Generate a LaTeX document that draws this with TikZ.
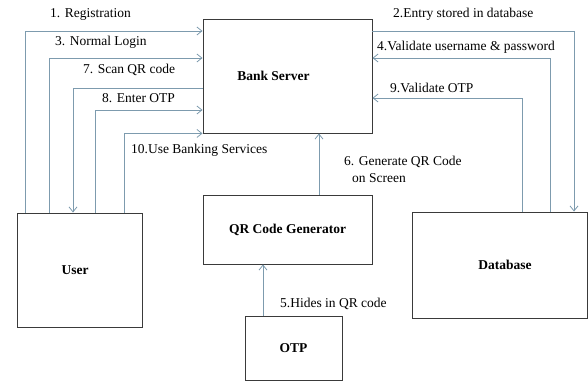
\documentclass[tikz,border=0pt]{standalone}
\usepackage{fontspec}
\setmainfont{Liberation Serif}
\usetikzlibrary{arrows.meta}
\definecolor{linkc}{HTML}{7D9BAE}
\definecolor{boxc}{HTML}{3A3A3A}
\begin{document}
\begin{tikzpicture}[x=1pt,y=-1pt,
  block/.style={draw=boxc,line width=0.9pt,rectangle,inner sep=0pt,
    font=\fontsize{13.5}{15}\selectfont\bfseries},
  link/.style={draw=linkc,line width=0.8pt,-{Straight Barb[length=5pt,width=8pt]}},
  lbl/.style={anchor=west,inner sep=0pt,font=\fontsize{13.5}{15}\selectfont}]
\useasboundingbox (0,0) rectangle (588,383);

% boxes (titles nudged off-centre with \hspace*)
\node[block,minimum width=169pt,minimum height=114pt] (bank) at (287.5,76) {Bank Server\hspace*{28pt}};
\node[block,minimum width=169pt,minimum height=69pt] (qr) at (287.5,229.5) {QR Code Generator};
\node[block,minimum width=97pt,minimum height=64pt] (otp) at (293.5,348) {OTP};
\node[block,minimum width=125pt,minimum height=114pt] (user) at (79.5,270) {User\hspace*{9pt}};
\node[block,minimum width=175pt,minimum height=106pt] (db) at (499.5,265) {\hspace*{11pt}Database};

% user <-> bank server
\draw[link] (user.north -| 25,0) |- (bank.west |- 0,31);
\draw[link] (user.north -| 49,0) |- (bank.west |- 0,58);
\draw[link] (bank.west |- 0,88) -| (user.north -| 73,0);
\draw[link] (user.north -| 95,0) |- (bank.west |- 0,110);
\draw[link] (user.north -| 124,0) |- (bank.south west);

% bank server <-> database
\draw[link] (bank.east |- 0,31) -| (db.north -| 574,0);
\draw[link] (db.north -| 550,0) |- (bank.east |- 0,58);
\draw[link] (db.north -| 522,0) |- (bank.east |- 0,98);

% generator chain
\draw[link] (qr.north -| 319,0) -- (bank.south -| 319,0);
\draw[link] (otp.north -| 263,0) -- (qr.south -| 263,0);

% labels
\node[lbl] (l1) at (50,14) {1. Registration};
\node[lbl] (l3) at (55,42) {3. Normal Login};
\node[lbl] (l7) at (83,70) {7. Scan QR code};
\node[lbl] (l8) at (102,98) {8. Enter OTP};
\node[lbl] (l10) at (131,150) {10.Use Banking Services};
\node[lbl] (l2) at (393,14) {2.Entry stored in database};
\node[lbl] (l4) at (377,47) {4.Validate username \& password};
\node[lbl] (l9) at (390,88) {9.Validate OTP};
\node[lbl] (l6) at (344,162) {6. Generate QR Code};
\node[lbl] (l6b) at (352,178) {on Screen};
\node[lbl] (l5) at (280,304) {5.Hides in QR code};
\end{tikzpicture}
\end{document}
